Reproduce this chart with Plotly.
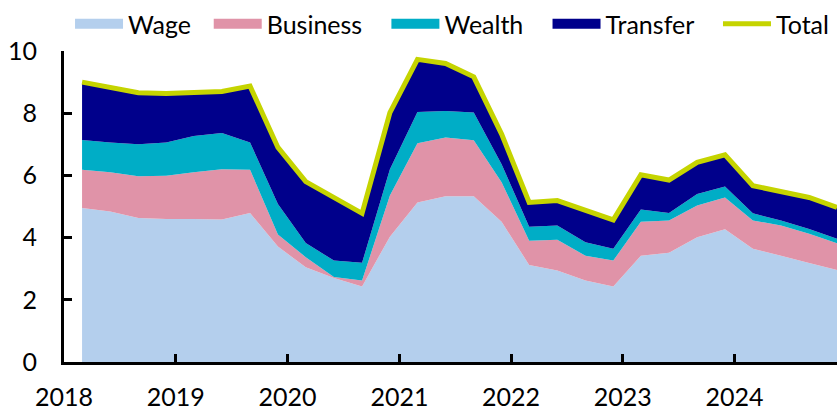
import plotly.graph_objects as go

dates = ["2018-03-01","2018-06-01","2018-09-01","2018-12-01",
         "2019-03-01","2019-06-01","2019-09-01","2019-12-01",
         "2020-03-01","2020-06-01","2020-09-01","2020-12-01",
         "2021-03-01","2021-06-01","2021-09-01","2021-12-01",
         "2022-03-01","2022-06-01","2022-09-01","2022-12-01",
         "2023-03-01","2023-06-01","2023-09-01","2023-12-01",
         "2024-03-01","2024-06-01","2024-09-01","2024-12-01"]

wage =     [4.95,4.84,4.63,4.60,4.60,4.58,4.79,3.71,3.05,2.70,2.43,4.03,5.13,5.33,5.33,4.51,3.12,2.94,2.62,2.43,3.42,3.51,4.01,4.27,3.64,3.42,3.18,2.96]
business = [1.23,1.26,1.34,1.39,1.50,1.62,1.39,0.39,0.32,0.03,0.19,1.32,1.90,1.89,1.80,1.27,0.78,0.99,0.80,0.83,1.09,1.04,1.02,1.02,0.91,0.97,0.94,0.86]
wealth =   [0.96,0.96,1.03,1.07,1.17,1.16,0.88,0.98,0.46,0.53,0.57,0.85,1.01,0.85,0.89,0.58,0.45,0.46,0.43,0.38,0.39,0.24,0.37,0.35,0.23,0.16,0.16,0.14]
transfer = [1.86,1.79,1.66,1.57,1.40,1.34,1.81,1.82,1.97,2.03,1.59,1.82,1.69,1.53,1.15,0.97,0.78,0.80,1.02,0.93,1.12,1.06,1.02,1.02,0.89,0.93,1.01,1.01]
total = [round(a+b+c+d, 2) for a, b, c, d in zip(wage, business, wealth, transfer)]

year_ticks = ["2018-01-01","2019-01-01","2020-01-01","2021-01-01","2022-01-01","2023-01-01","2024-01-01"]
year_labels = ["2018","2019","2020","2021","2022","2023","2024"]
y_ticks = [0, 2, 4, 6, 8, 10]

names = ["Wage", "Business", "Wealth", "Transfer"]
colors = ["#B4CFED", "#E093A8", "#00ADC6", "#00008B"]
series = [wage, business, wealth, transfer]
total_color = "#C5D400"

FONT = "Lato"
NB = "\u00a0"
pads = [2, 3, 3, 3]

fig = go.Figure()
for nm, col, vals in zip(names, colors, series):
    fig.add_trace(go.Scatter(x=dates, y=vals, name=nm, stackgroup="one",
                             mode="none", fillcolor=col, showlegend=False,
                             hoverinfo="x+y+name"))
fig.add_trace(go.Scatter(x=dates, y=total, name="Total", mode="lines",
                         line=dict(color=total_color, width=5), showlegend=False))

# legend proxies
for nm, col, p in zip(names, colors, pads):
    fig.add_trace(go.Scatter(x=[None], y=[None], mode="lines", name=nm + NB * p,
                             line=dict(color=col, width=16), showlegend=True))
fig.add_trace(go.Scatter(x=[None], y=[None], mode="lines", name="Total",
                         line=dict(color=total_color, width=5), showlegend=True))

fig.update_layout(
    width=837, height=410,
    margin=dict(l=64, r=0, t=51, b=48),
    paper_bgcolor="white", plot_bgcolor="white",
    font=dict(family=FONT, size=25, color="black"),
    showlegend=True,
    legend=dict(orientation="h", x=0.0078, xanchor="left", y=1.0868, yanchor="middle",
                font=dict(family=FONT, size=25, color="black"),
                itemwidth=48, tracegroupgap=0, traceorder="normal",
                bgcolor="rgba(0,0,0,0)"),
    xaxis=dict(type="date", range=["2018-01-01", "2024-12-01"],
               tickvals=year_ticks, ticktext=year_labels,
               showgrid=False, zeroline=False,
               showline=True, linecolor="black", linewidth=3,
               ticks="inside", ticklen=8, tickwidth=3, tickcolor="black",
               ticklabelstandoff=11),
    yaxis=dict(range=[0, 10], tickvals=y_ticks,
               showgrid=False, zeroline=False,
               showline=True, linecolor="black", linewidth=3,
               ticks="inside", ticklen=8, tickwidth=3, tickcolor="black",
               ticklabelstandoff=19),
)

fig.write_html("out.html", config={"displayModeBar": False},
               post_script="document.body.style.margin='0px';")
